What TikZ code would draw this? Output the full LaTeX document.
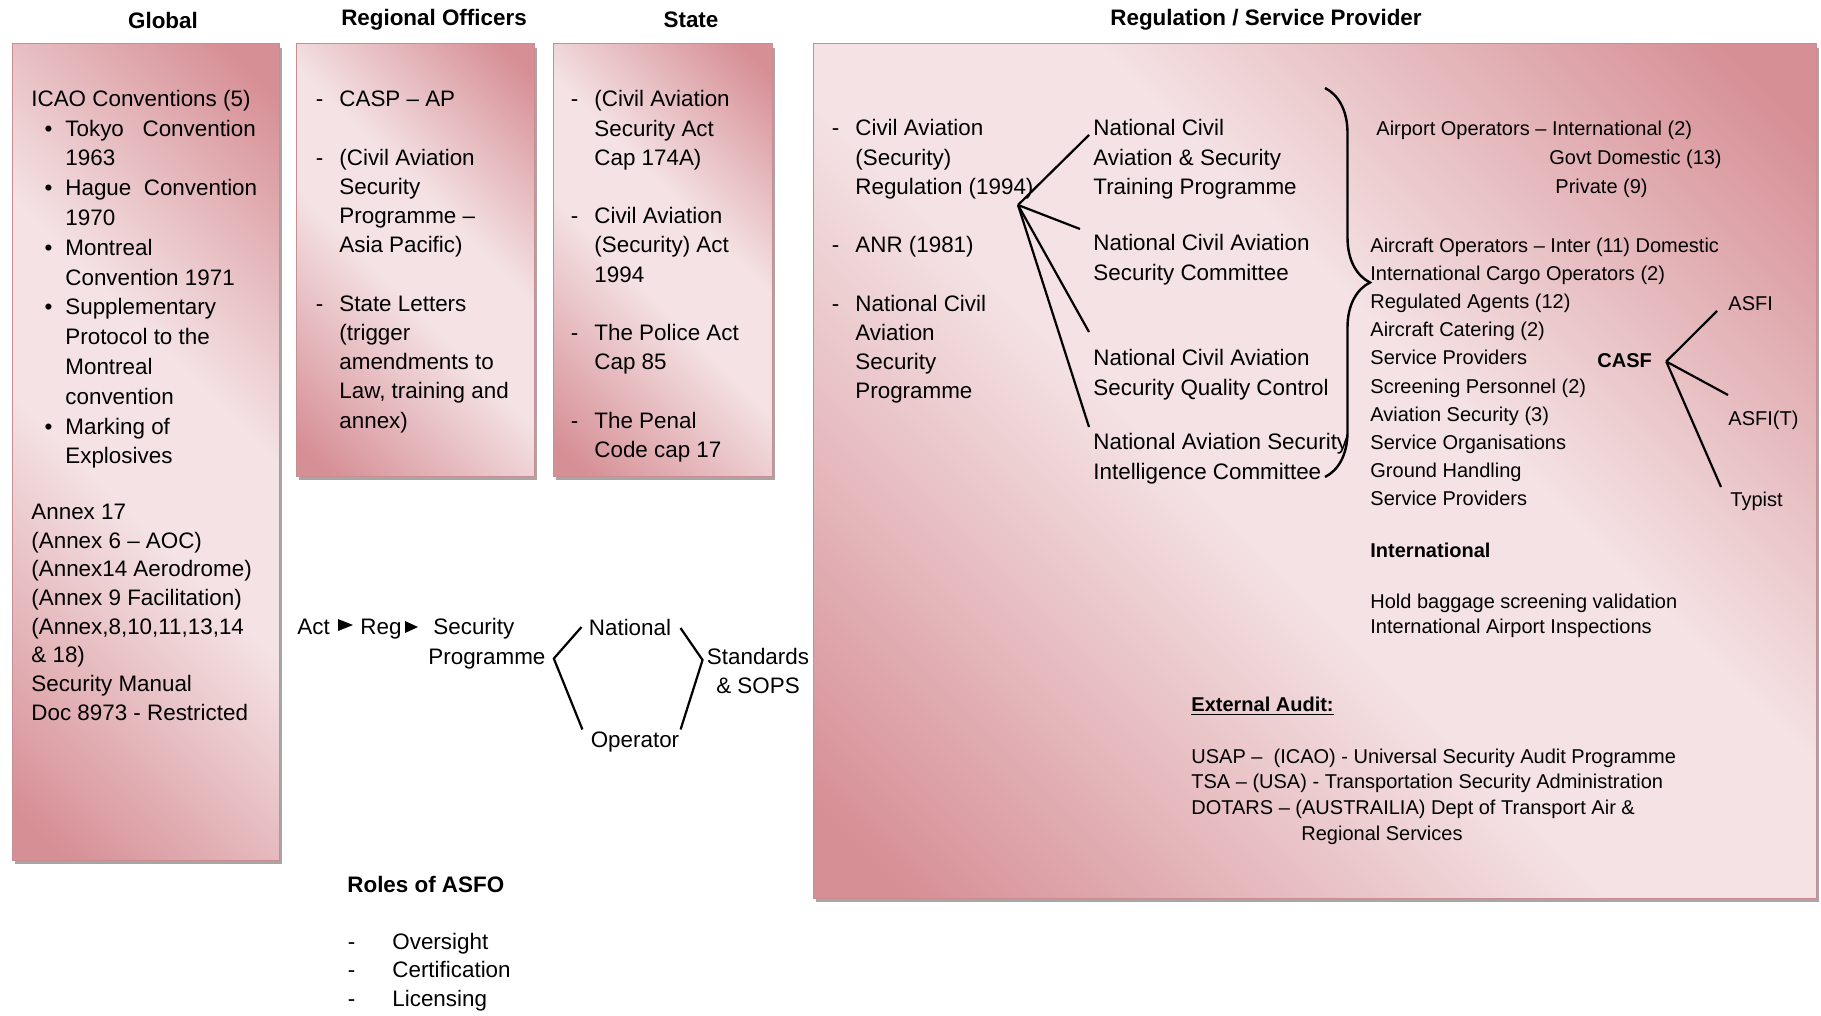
\documentclass[tikz,border=0pt]{standalone}
\usepackage{fontspec}
\setmainfont{Liberation Sans}
\usetikzlibrary{decorations.pathreplacing}
\definecolor{rosedark}{RGB}{214,143,149}
\definecolor{roselight}{RGB}{244,226,228}
\pgfdeclarehorizontalshading{roseshade}{100bp}{color(0bp)=(rosedark); color(18bp)=(rosedark); color(45bp)=(roselight); color(58bp)=(roselight); color(82bp)=(rosedark); color(100bp)=(rosedark)}
\newcommand\dsh{\llap{-\hspace{8pt}}}
\newcommand\bul{\hspace*{17pt}\llap{\textbullet\hspace{6.5pt}}}
\newcommand\ind{\hspace*{17pt}}
\tikzset{
  panel/.style={draw=rosedark!85!gray, line width=0.5pt, shading=roseshade, shading angle=45},
  panelshadow/.style={fill=black!35},
  head/.style={font=\fontsize{11.2}{13}\selectfont\bfseries, inner sep=0pt},
  txt/.style={font=\fontsize{11.2}{14.6}\selectfont, align=left, anchor=north west, inner sep=0pt},
  small/.style={font=\fontsize{10}{14.1}\selectfont, align=left, anchor=north west, inner sep=0pt},
  lbl/.style={font=\fontsize{11.2}{14.6}\selectfont, inner sep=0pt},
  link/.style={line width=1.1pt},
}
\begin{document}
\begin{tikzpicture}[x=0.5pt,y=-0.5pt]
\useasboundingbox (0,0) rectangle (1821,1016);
\foreach \l/\t/\r/\b in {12/44/279/860, 296/44/534/476, 553/44/772/476, 813/44/1816/898}{
  \fill[panelshadow] (\l+3,\t+4) rectangle (\r+3,\b+4);
  \path[panel] (\l,\t) rectangle (\r,\b);
}

\node[head] (hglobal) at (163,20) {Global};
\node[head] (hregion) at (434,20) {Regional Officers};
\node[head] (hstate) at (691,20) {State};
\node[head] (hreg) at (1266,20) {Regulation / Service Provider};

\node[txt, font=\fontsize{11.2}{14.9}\selectfont] (icao) at (31,85) {\strut ICAO Conventions (5)\\
  \bul Tokyo\ \ \ Convention\\ \ind 1963\\ \bul Hague\ \ Convention\\ \ind 1970\\
  \bul Montreal\\ \ind Convention 1971\\ \bul Supplementary\\ \ind Protocol to the\\
  \ind Montreal\\ \ind convention\\ \bul Marking of\\ \ind Explosives};
\node[txt, font=\fontsize{11.2}{14.35}\selectfont] (annex) at (31,499) {\strut Annex 17\\
  (Annex 6 -- AOC)\\ (Annex14 Aerodrome)\\ (Annex 9 Facilitation)\\ (Annex,8,10,11,13,14\\
  \& 18)\\ Security Manual\\ Doc 8973 - Restricted};

\node[txt] (casp) at (339,86) {\strut\dsh CASP -- AP\\[14.6pt]
  \dsh (Civil Aviation\\ Security\\ Programme --\\ Asia Pacific)\\[14.6pt]
  \dsh State Letters\\ (trigger\\ amendments to\\ Law, training and\\ annex)};

\node[txt] (acts) at (594,86) {\strut\dsh (Civil Aviation\\ Security Act\\ Cap 174A)\\[14.6pt]
  \dsh Civil Aviation\\ (Security) Act\\ 1994\\[14.6pt]
  \dsh The Police Act\\ Cap 85\\[14.6pt]
  \dsh The Penal\\ Code cap 17};

\node[txt] (regs) at (855,115) {\strut\dsh Civil Aviation\\ (Security)\\ Regulation (1994)\\[14.6pt]
  \dsh ANR (1981)\\[14.6pt]
  \dsh National Civil\\ Aviation\\ Security\\ Programme};

\node[txt] (train) at (1093,115) {\strut National Civil\\ Aviation \& Security\\ Training Programme};
\node[txt] (cttee) at (1093,230) {\strut National Civil Aviation\\ Security Committee};
\node[txt] (qctrl) at (1093,345) {\strut National Civil Aviation\\ Security Quality Control};
\node[txt] (intel) at (1093,429) {\strut National Aviation Security\\ Intelligence Committee};

\coordinate (fan) at (1018,205);
\draw[link] (fan) -- ([shift={(-4,20)}]train.north west);
\draw[link] (fan) -- ([shift={(-13,-1)}]cttee.north west);
\draw[link] (fan) -- ([shift={(-4,-13)}]qctrl.north west);
\draw[link] (fan) -- ([shift={(-4,-2)}]intel.north west);

\coordinate (brtop) at (1325,88);
\coordinate (brbot) at (1325,477);
\draw[line width=1.2pt, decorate, decoration={brace, amplitude=22.5pt}] (brtop) -- (brbot);

\node[small] (airport) at (1376,115) {\strut Airport Operators -- International (2)};
\node[small] (govt) at (1549,144) {\strut Govt Domestic (13)};
\node[small] (priv) at (1555,173) {\strut Private (9)};
\node[small] (ops) at (1370,232) {\strut Aircraft Operators -- Inter (11) Domestic\\
  International Cargo Operators (2)\\ Regulated Agents (12)\\ Aircraft Catering (2)\\
  Service Providers\\ Screening Personnel (2)\\ Aviation Security (3)\\
  Service Organisations\\ Ground Handling\\ Service Providers};

\node[small, font=\fontsize{10}{14.1}\selectfont\bfseries] (casf) at (1597,347) {\strut CASF};
\node[small] (asfi) at (1728,290) {\strut ASFI};
\node[small] (asfit) at (1728,405) {\strut ASFI(T)};
\node[small] (typist) at (1730,486) {\strut Typist};
\coordinate (casffan) at ([xshift=7pt]casf.east);
\draw[link] (casffan) -- ([shift={(-11,21)}]asfi.north west);
\draw[link] (casffan) -- ([shift={(0,-10)}]asfit.north west);
\draw[link] (casffan) -- ([shift={(-9,1)}]typist.north west);

\node[small, font=\fontsize{10}{14.1}\selectfont\bfseries] (intl) at (1370,537) {\strut International};
\node[small, font=\fontsize{10}{12.5}\selectfont] (hold) at (1370,591) {\strut Hold baggage screening validation\\
  International Airport Inspections};
\node[small, font=\fontsize{10}{14.1}\selectfont\bfseries] (extaudit) at (1191,691) {\strut\underline{External Audit:}};
\node[small, font=\fontsize{10}{12.8}\selectfont] (audits) at (1191,745) {\strut USAP --\ \ (ICAO) - Universal Security Audit Programme\\
  TSA -- (USA) - Transportation Security Administration\\
  DOTARS -- (AUSTRAILIA) Dept of Transport Air \&\\
  \hspace*{55pt}Regional Services};

\node[txt] (act) at (297,614) {\strut Act};
\node[txt] (reg) at (360,614) {\strut Reg};
\node[txt] (secprog) at (428,614) {\strut\hspace*{2.5pt}Security\\ Programme};
\fill (338,619) -- (353,625) -- (338,631) -- cycle;
\fill (405,621) -- (418,627) -- (405,633) -- cycle;

\node[lbl] (natl) at (630,627) {National};
\node[lbl] (oper) at (635,742) {Operator};
\node[lbl, align=center] (stds) at (758,671) {Standards\\ \& SOPS};
\draw[link] ([shift={(-7,0)}]natl.west) -- ([shift={(8,17)}]secprog.east) -- ([shift={(-8,-2)}]oper.north west);
\draw[link] ([shift={(9,1)}]natl.east) -- ([shift={(-4,-11)}]stds.west) -- ([shift={(1,-2)}]oper.north east);

\node[txt, font=\fontsize{11.2}{14.6}\selectfont\bfseries] (roles) at (347,872) {\strut Roles of ASFO};
\node[txt, font=\fontsize{11.2}{14.25}\selectfont] (rolelist) at (392,929) {\strut\llap{-\hspace{18.5pt}}Oversight\\
  \llap{-\hspace{18.5pt}}Certification\\ \llap{-\hspace{18.5pt}}Licensing};
\end{tikzpicture}
\end{document}
